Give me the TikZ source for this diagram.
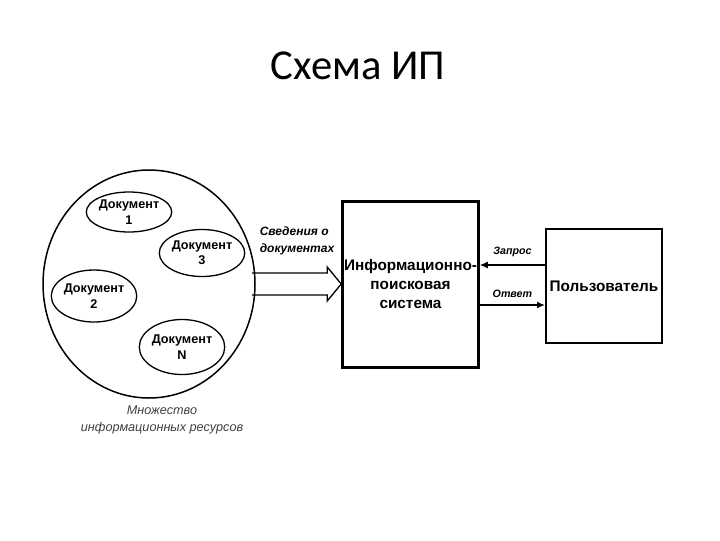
\documentclass[tikz,border=0pt]{standalone}
\usepackage{fontspec}
\setmainfont{Liberation Sans}
\newfontfamily\titlefont{Carlito}
\usetikzlibrary{arrows.meta,positioning,shapes.geometric,calc}
\newlength{\px}
\setlength{\px}{0.75pt}

\begin{document}
\begin{tikzpicture}[
    x=\px, y=-\px,
    doc/.style={ellipse, draw, line width=1.3\px, minimum width=83\px, minimum height=42\px, inner sep=0pt, align=center, font=\bfseries\fontsize{9.5}{11.5}\selectfont},
    box/.style={rectangle, draw, inner sep=1pt, align=center, font=\bfseries\fontsize{11.5}{14}\selectfont},
    note/.style={font=\bfseries\itshape\fontsize{8}{10}\selectfont, align=left},
    arrow/.style={-{Latex[length=6pt, width=5.25pt]}, line width=1.3\px}
]
\useasboundingbox (0,0) rectangle (720,540);

% Title
\node[font=\titlefont\fontsize{32}{34}\selectfont] (title) at (358,66) {Схема ИП};

% Set of resources
\node[ellipse, draw, line width=1.5\px, minimum width=212\px, minimum height=228\px] (res) at (149,284) {};
\node[doc, minimum height=40\px] (doc1) at (129,212) {Документ\\1};
\node[doc, minimum height=47\px] (doc3) at (202,253) {Документ\\3};
\node[doc, minimum height=52\px] (doc2) at (94,296) {Документ\\2};
\node[doc, minimum height=55\px] (docN) at (182,347) {Документ\\N};
\node[font=\itshape\fontsize{9.5}{12.5}\selectfont, text=black!75, align=center] (reslabel) at (162,420) {Множество\\информационных ресурсов};

% System and user
\node[box, line width=3\px, minimum width=135\px, minimum height=166\px] (ips) at (410.5,284) {Информационно-\\поисковая\\система};
\node[box, line width=2\px, minimum width=116\px, minimum height=114\px] (user) at (604,286) {Пользователь};

% Hollow arrow
\draw[line width=1.3\px] ($(ips.west)+(-89,-11)$) -- ++(75,0) -- ++(0,-6) -- (ips.west)
    -- ++(-14,17) -- ++(0,-6) -- ++(-75,0);
\node[note, font=\bfseries\itshape\fontsize{9}{13}\selectfont] (info) at (297,241) {Сведения о\\документах};

% Query and answer
\coordinate (q) at ($(user.west)+(0,-21)$);
\coordinate (a) at ($(user.west)+(0,19)$);
\draw[arrow] (q) -- (q -| ips.east) node[midway, above=2.2pt, note] {Запрос};
\draw[arrow, line width=2.3\px] (a -| ips.east) -- (a) node[midway, above=1.5pt, note] {Ответ};

\end{tikzpicture}
\end{document}
